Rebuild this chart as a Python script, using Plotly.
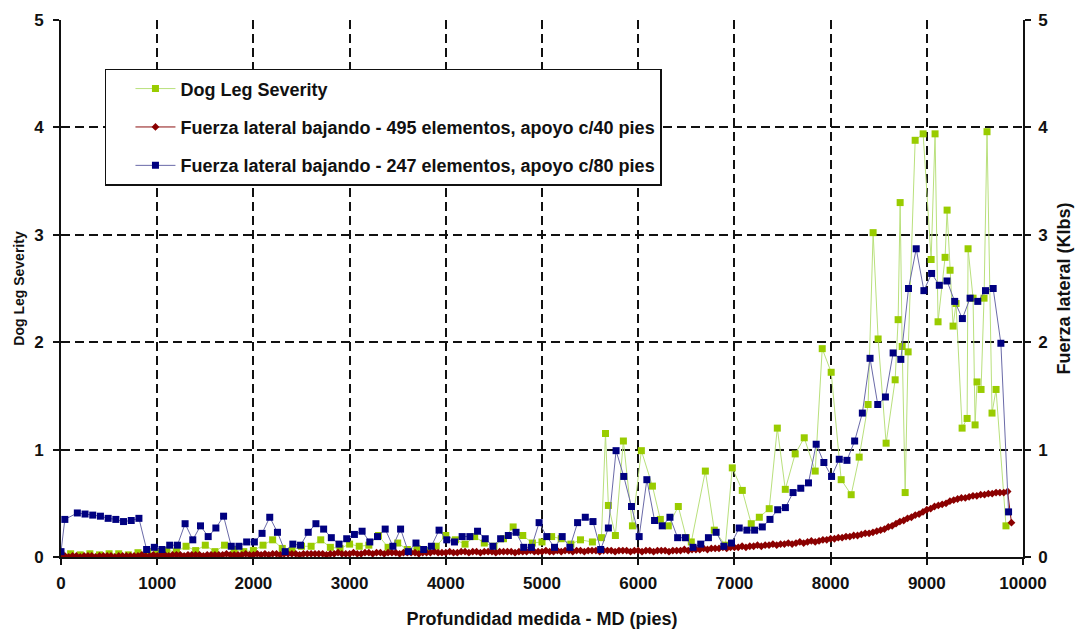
import plotly.graph_objects as go
import numpy as np

# ---------------- DATA ----------------
# Dog Leg Severity (survey stations)
dls_md = [0, 100, 200, 300, 400, 500, 600, 700, 800, 900,
          1000, 1100, 1200, 1300, 1400, 1500, 1600, 1700, 1800, 1900,
          2000, 2100, 2200, 2300, 2400, 2500, 2600, 2700, 2800, 2900,
          3000, 3100, 3200, 3300, 3400, 3500, 3600, 3700, 3800, 3900,
          4000, 4100, 4200, 4300, 4400, 4500, 4600, 4700, 4800, 4900,
          5000, 5100, 5200, 5300, 5400, 5524, 5618, 5660, 5690, 5763,
          5846, 5940, 6033, 6148, 6230, 6313, 6417, 6500, 6552, 6698,
          6791, 6906, 6978, 7082, 7175, 7259, 7362, 7446, 7529, 7632,
          7726, 7840, 7913, 8006, 8110, 8214, 8297, 8390, 8442, 8494,
          8577, 8671, 8702, 8723, 8744, 8775, 8806, 8879, 8962, 9045,
          9086, 9117, 9190, 9211, 9242, 9273, 9304, 9367, 9419, 9429,
          9481, 9502, 9522, 9564, 9595, 9626, 9678, 9720, 9823]
dls_val = [0.02, 0.03, 0.02, 0.03, 0.02, 0.03, 0.03, 0.02, 0.04, 0.05,
           0.04, 0.06, 0.05, 0.10, 0.06, 0.11, 0.05, 0.11, 0.07, 0.05,
           0.06, 0.11, 0.16, 0.08, 0.06, 0.10, 0.10, 0.16, 0.09, 0.08,
           0.12, 0.10, 0.11, 0.20, 0.09, 0.13, 0.07, 0.08, 0.06, 0.10,
           0.20, 0.16, 0.12, 0.19, 0.13, 0.10, 0.17, 0.28, 0.20, 0.13,
           0.14, 0.19, 0.17, 0.12, 0.16, 0.14, 0.18, 1.15, 0.48, 0.20,
           1.08, 0.29, 0.99, 0.66, 0.35, 0.29, 0.47, 0.18, 0.14, 0.80,
           0.25, 0.11, 0.83, 0.62, 0.31, 0.37, 0.45, 1.20, 0.63, 0.96,
           1.11, 0.80, 1.94, 1.72, 0.72, 0.58, 0.93, 1.42, 3.02, 2.03,
           1.06, 1.65, 2.21, 3.30, 1.96, 0.60, 1.91, 3.88, 3.94, 2.77,
           3.94, 2.19, 2.79, 3.23, 2.67, 2.15, 2.36, 1.20, 1.29, 2.87,
           2.41, 1.23, 1.63, 1.56, 2.41, 3.96, 1.34, 1.56, 0.29]

# Lateral force, 495 elements, support every 40 ft (one value per 40 ft)
f495_val = [
    0.00, 0.01, 0.00, 0.01, 0.01, 0.00, 0.01, 0.01, 0.01, 0.00, 0.01, 0.01, 0.01, 0.01, 0.00, 0.01, 0.01, 0.01, 0.01, 0.01, 0.01, 0.02, 0.01, 0.01, 0.02,
    0.01, 0.02, 0.02, 0.01, 0.02, 0.02, 0.02, 0.01, 0.02, 0.02, 0.02, 0.02, 0.01, 0.02, 0.02, 0.02, 0.02, 0.02, 0.03, 0.02, 0.02, 0.02, 0.02, 0.03, 0.02,
    0.02, 0.03, 0.02, 0.03, 0.02, 0.03, 0.03, 0.02, 0.03, 0.03, 0.03, 0.03, 0.02, 0.03, 0.03, 0.03, 0.03, 0.03, 0.03, 0.02, 0.03, 0.03, 0.04, 0.03, 0.03,
    0.03, 0.04, 0.03, 0.03, 0.04, 0.04, 0.03, 0.04, 0.04, 0.03, 0.04, 0.04, 0.04, 0.03, 0.04, 0.04, 0.04, 0.04, 0.03, 0.04, 0.04, 0.04, 0.05, 0.04, 0.04,
    0.04, 0.05, 0.04, 0.04, 0.05, 0.05, 0.04, 0.05, 0.05, 0.04, 0.05, 0.05, 0.05, 0.04, 0.05, 0.05, 0.05, 0.05, 0.04, 0.05, 0.05, 0.05, 0.06, 0.05, 0.05,
    0.05, 0.06, 0.05, 0.05, 0.06, 0.05, 0.06, 0.06, 0.05, 0.06, 0.06, 0.05, 0.06, 0.06, 0.06, 0.05, 0.06, 0.06, 0.06, 0.05, 0.06, 0.06, 0.06, 0.05, 0.06,
    0.06, 0.05, 0.06, 0.06, 0.05, 0.06, 0.06, 0.06, 0.05, 0.06, 0.06, 0.06, 0.07, 0.06, 0.07, 0.07, 0.07, 0.08, 0.07, 0.08, 0.08, 0.08, 0.09, 0.08, 0.09,
    0.09, 0.09, 0.10, 0.09, 0.10, 0.10, 0.11, 0.10, 0.11, 0.11, 0.12, 0.11, 0.12, 0.12, 0.13, 0.12, 0.13, 0.14, 0.13, 0.14, 0.15, 0.14, 0.15, 0.16, 0.16,
    0.17, 0.17, 0.18, 0.18, 0.19, 0.19, 0.20, 0.20, 0.21, 0.22, 0.22, 0.23, 0.24, 0.25, 0.26, 0.28, 0.29, 0.31, 0.33, 0.34, 0.36, 0.37, 0.39, 0.40, 0.42,
    0.44, 0.45, 0.47, 0.48, 0.49, 0.50, 0.52, 0.53, 0.54, 0.55, 0.55, 0.56, 0.57, 0.57, 0.58, 0.58, 0.59, 0.59, 0.60, 0.60, 0.60, 0.61, 0.32,
]
f495_md = np.arange(len(f495_val)) * 40

# Lateral force, 247 elements, support every 80 ft
f247_val = [
    0.05, 0.35, 0.41, 0.40, 0.39, 0.38, 0.36, 0.35, 0.33, 0.34, 0.36,
    0.07, 0.09, 0.07, 0.11, 0.11, 0.31, 0.16, 0.29, 0.19, 0.27,
    0.38, 0.10, 0.10, 0.14, 0.14, 0.22, 0.37, 0.23, 0.05, 0.12,
    0.11, 0.23, 0.31, 0.26, 0.18, 0.12, 0.17, 0.21, 0.24, 0.14,
    0.19, 0.26, 0.10, 0.26, 0.05, 0.13, 0.07, 0.10, 0.25, 0.16,
    0.14, 0.19, 0.19, 0.24, 0.17, 0.10, 0.17, 0.20, 0.23, 0.09,
    0.09, 0.32, 0.19, 0.09, 0.19, 0.09, 0.32, 0.37, 0.33, 0.07,
    0.27, 0.99, 0.75, 0.47, 0.19, 0.72, 0.34, 0.29, 0.37, 0.18,
    0.18, 0.09, 0.12, 0.18, 0.23, 0.10, 0.13, 0.27, 0.25, 0.25,
    0.28, 0.35, 0.44, 0.46, 0.60, 0.64, 0.69, 1.05, 0.88, 0.75,
    0.91, 0.90, 1.08, 1.34, 1.85, 1.42, 1.49, 1.90, 1.84, 2.50,
    2.87, 2.48, 2.64, 2.53, 2.57, 2.38, 2.22, 2.41, 2.38, 2.48,
    2.50, 1.99, 0.42,
]
f247_md = [0, 40] + list(range(170, 170 + 80 * (len(f247_val) - 2), 80))

x_ticks = [0, 1000, 2000, 3000, 4000, 5000, 6000, 7000, 8000, 9000, 10000]
y_ticks = [0, 1, 2, 3, 4, 5]

names = ["Dog Leg Severity",
         "Fuerza lateral bajando - 495 elementos, apoyo c/40 pies",
         "Fuerza lateral bajando - 247 elementos, apoyo c/80 pies"]

# ---------------- FIGURE ----------------
FONT = "Liberation Sans, Arial, sans-serif"
INK = "#111111"
fig = go.Figure()

fig.add_trace(go.Scatter(
    x=dls_md, y=dls_val, name=names[0], mode="lines+markers",
    line=dict(color="#b9e07c", width=1),
    marker=dict(symbol="square", size=7, color="#99cc00"),
    legendgroup="a"))
fig.add_trace(go.Scatter(
    x=f495_md, y=f495_val, name=names[1], mode="lines+markers", yaxis="y2",
    line=dict(color="#8b1010", width=1),
    marker=dict(symbol="diamond", size=6, color="#8b0000"),
    legendgroup="b"))
fig.add_trace(go.Scatter(
    x=f247_md, y=f247_val, name=names[2], mode="lines+markers", yaxis="y2",
    line=dict(color="#6a6aa8", width=1),
    marker=dict(symbol="square", size=7, color="#000080"),
    legendgroup="c"))

tick_font = dict(family=FONT, size=17, color=INK, weight="bold")

common = dict(
    showline=True, linecolor=INK, linewidth=1.6,
    ticks="outside", ticklen=6, tickcolor=INK, tickwidth=1.5,
    zeroline=False, tickfont=tick_font, automargin=False,
)

fig.update_layout(
    width=1080, height=629,
    margin=dict(l=61, r=57, t=20, b=72),
    paper_bgcolor="white", plot_bgcolor="white",
    font=dict(family=FONT, color=INK),
    showlegend=True,
    legend=dict(
        x=0.0457, y=0.909, xanchor="left", yanchor="top",
        bgcolor="white", bordercolor=INK, borderwidth=1.5,
        font=dict(family=FONT, size=18, color=INK, weight="bold"),
        tracegroupgap=12, itemwidth=40, indentation=24,
        entrywidth=536, entrywidthmode="pixels",
    ),
    xaxis=dict(
        range=[0, 10000], tickvals=x_ticks, ticktext=[str(v) for v in x_ticks],
        showgrid=True, gridcolor=INK, gridwidth=1.5, griddash="9px,5px",
        ticklabelstandoff=4,
        title=dict(text="Profundidad medida - MD (pies)",
                   font=dict(family=FONT, size=18, color=INK, weight="bold"), standoff=20),
        **common,
    ),
    yaxis=dict(
        range=[0, 5], tickvals=y_ticks,
        showgrid=True, gridcolor=INK, gridwidth=1.5, griddash="9px,5px",
        ticklabelstandoff=6,
        title=dict(text="Dog Leg Severity",
                   font=dict(family=FONT, size=14, color=INK, weight="bold"), standoff=6),
        **common,
    ),
    yaxis2=dict(
        range=[0, 5], tickvals=y_ticks, overlaying="y", side="right",
        showgrid=False, ticklabelstandoff=4,
        title=dict(text="Fuerza lateral (Klbs)",
                   font=dict(family=FONT, size=18, color=INK, weight="bold"), standoff=10),
        **common,
    ),
)

fig.write_html("out.html")
